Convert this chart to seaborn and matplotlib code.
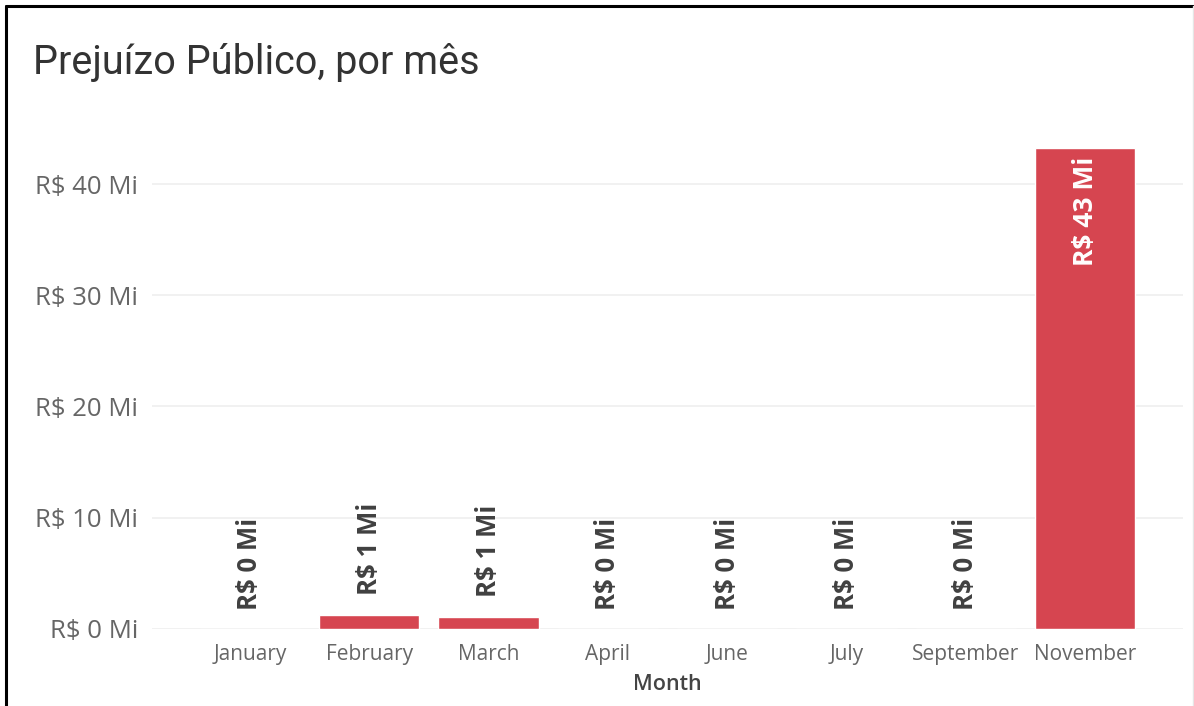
import matplotlib
matplotlib.use("Agg")
import matplotlib.pyplot as plt
import pandas as pd
import seaborn as sns
from matplotlib.lines import Line2D

# Data (R$ millions)
months = ["January", "February", "March", "April", "June", "July", "September", "November"]
prejuizo = [0.0, 1.3, 1.1, 0.0, 0.0, 0.0, 0.0, 43.2]
y_ticks = [0, 10, 20, 30, 40]

df = pd.DataFrame({"Month": months, "Prejuizo": prejuizo})

sns.set_theme(style="white")
plt.rcParams['font.family'] = ['Open Sans', 'DejaVu Sans']

fig = plt.figure(figsize=(11.94, 7.06), dpi=100)
ax = fig.add_axes([0.1273, 0.1091, 0.8635, 0.6933])

# Bars
sns.barplot(data=df, x="Month", y="Prejuizo", order=months, color="#D64550",
            saturation=1, width=0.84, ax=ax)

ax.set_xlim(-0.82, len(months) - 1 + 0.82)
ax.set_ylim(0, 44)
ax.set_yticks(y_ticks)
ax.set_yticklabels([f"R$ {t} Mi" for t in y_ticks])

# Light horizontal gridlines, no spines
ax.grid(axis="y", color="#EFEFEF", linewidth=1.2)
ax.set_axisbelow(True)
for s in ax.spines.values():
    s.set_visible(False)
ax.tick_params(axis="y", length=0, pad=10, labelsize=18.5, labelcolor="#666666")
ax.tick_params(axis="x", length=0, pad=11, labelsize=15, labelcolor="#666666")

ax.set_xlabel("Month", fontsize=15.5, color="#444444", fontweight="semibold", labelpad=6)
ax.set_ylabel("")

# Data labels, rotated
for i, v in enumerate(prejuizo):
    txt = f"R$ {v:.0f} Mi"
    if v > 10:
        ax.annotate(txt, (i, v), xytext=(0, -6), textcoords="offset points",
                    rotation=90, ha="center", va="top", fontsize=19,
                    fontweight="bold", color="white")
    else:
        ax.annotate(txt, (i, v), xytext=(0, 14), textcoords="offset points",
                    rotation=90, ha="center", va="bottom", fontsize=18.5,
                    fontweight="bold", color="#404040")

# Title
fig.text(33 / 1194, 1 - 62 / 706, "Prejuízo Público, por mês", fontsize=28.5,
         color="#333333", va="center", ha="left", family=["Roboto", "DejaVu Sans"])

# Frame around the visual (left, top, right)
fig.add_artist(Line2D([6 / 1194, 6 / 1194], [0, 1 - 6 / 706], color="black", linewidth=2.2))
fig.add_artist(Line2D([6 / 1194, 1193 / 1194], [1 - 6 / 706, 1 - 6 / 706], color="black", linewidth=2.2))
fig.add_artist(Line2D([1193 / 1194, 1193 / 1194], [0, 1 - 6 / 706], color="#E6E6E6", linewidth=1.0))

plt.savefig("out.png", dpi=100)
plt.close()
